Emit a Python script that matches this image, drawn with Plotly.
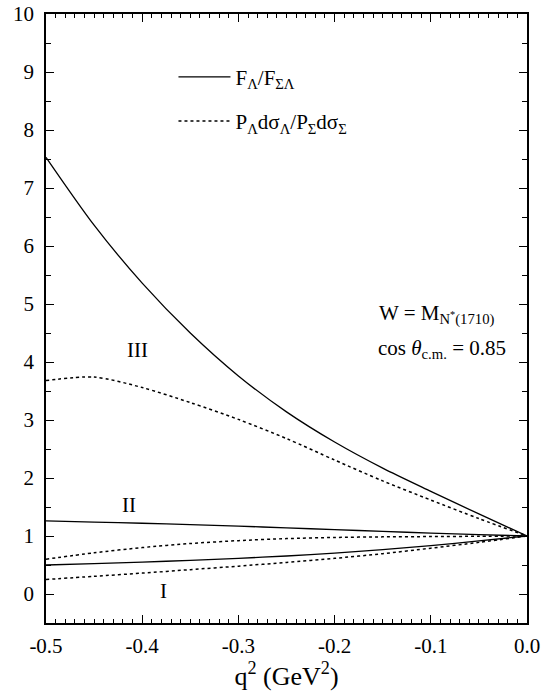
import plotly.graph_objects as go

# q^2 grid (GeV^2)
q2 = [-0.5, -0.45, -0.4, -0.35, -0.3, -0.25, -0.2, -0.15, -0.1, -0.05, 0.0]

# Curve III
f_III = [7.53, 6.36, 5.36, 4.50, 3.76, 3.14, 2.62, 2.17, 1.77, 1.38, 1.0]
p_III = [3.68, 3.74, 3.56, 3.30, 3.01, 2.68, 2.31, 1.95, 1.62, 1.30, 1.0]
# Curve II
f_II = [1.26, 1.24, 1.22, 1.195, 1.17, 1.14, 1.11, 1.08, 1.05, 1.025, 1.0]
p_II = [0.60, 0.71, 0.80, 0.87, 0.92, 0.955, 0.975, 0.985, 0.99, 0.995, 1.0]
# Curve I
f_I = [0.50, 0.525, 0.55, 0.58, 0.615, 0.655, 0.705, 0.765, 0.835, 0.915, 1.0]
p_I = [0.25, 0.305, 0.36, 0.42, 0.48, 0.545, 0.615, 0.695, 0.79, 0.89, 1.0]

# Tick labels
x_tickvals = [-0.5, -0.4, -0.3, -0.2, -0.1, 0.0]
x_ticktext = ["-0.5", "-0.4", "-0.3", "-0.2", "-0.1", "0.0"]
y_tickvals = [0, 1, 2, 3, 4, 5, 6, 7, 8, 9, 10]
y_ticktext = ["0", "1", "2", "3", "4", "5", "6", "7", "8", "9", "10"]

legend_solid = "F<sub>Λ</sub>/F<sub>ΣΛ</sub>"
legend_dot = "P<sub>Λ</sub>dσ<sub>Λ</sub>/P<sub>Σ</sub>dσ<sub>Σ</sub>"

FONT = "Liberation Serif, Times New Roman, Times, serif"

fig = go.Figure()

def add(y, dash, name, show):
    fig.add_trace(go.Scatter(
        x=q2, y=y, mode="lines", name=name, showlegend=show,
        legendgroup=name,
        line=dict(color="black", width=1.3 if dash == "solid" else 1.5,
                  dash=dash, shape="spline", smoothing=0.8),
        hoverinfo="skip"))

add(f_III, "solid", legend_solid, True)
add(p_III, "dot", legend_dot, True)
add(f_II, "solid", "fII", False)
add(p_II, "dot", "pII", False)
add(f_I, "solid", "fI", False)
add(p_I, "dot", "pI", False)

annots = [
    dict(x=-0.405, y=4.2, text="III"),
    dict(x=-0.414, y=1.53, text="II"),
    dict(x=-0.378, y=0.05, text="I"),
]
for a in annots:
    fig.add_annotation(x=a["x"], y=a["y"], text=a["text"], showarrow=False,
                       font=dict(family=FONT, size=21, color="black"),
                       xanchor="center", yanchor="middle")

fig.add_annotation(x=-0.156, y=4.82, text="W = M<sub>N<sup>*</sup>(1710)</sub>",
                   showarrow=False, xanchor="left", yanchor="middle",
                   font=dict(family=FONT, size=21, color="black"))
fig.add_annotation(x=-0.157, y=4.22, text="cos <i>θ</i><sub>c.m.</sub> = 0.85",
                   showarrow=False, xanchor="left", yanchor="middle",
                   font=dict(family=FONT, size=21, color="black"))

axis_common = dict(
    showline=True, linecolor="black", linewidth=1.5, mirror="ticks",
    ticks="inside", ticklen=8, tickwidth=1.2, tickcolor="black",
    showgrid=False, zeroline=False, automargin=False,
    tickfont=dict(family=FONT, size=21, color="black"),
)

fig.update_xaxes(range=[-0.5, 0.0], tickmode="array",
                 tickvals=x_tickvals, ticktext=x_ticktext, ticklabelstandoff=3,
                 minor=dict(dtick=0.01, tick0=0, ticks="inside", ticklen=4,
                            tickcolor="black", tickwidth=1),
                 title=dict(text="q<sup>2</sup> (GeV<sup>2</sup>)",
                            font=dict(family=FONT, size=26, color="black"), standoff=10),
                 **axis_common)
fig.update_yaxes(range=[-0.5, 10], tickmode="array",
                 tickvals=y_tickvals, ticktext=y_ticktext, ticklabelstandoff=6,
                 minor=dict(dtick=0.5, tick0=0, ticks="inside", ticklen=5,
                            tickcolor="black", tickwidth=1),
                 **axis_common)

fig.update_layout(
    width=552, height=694,
    margin=dict(l=46, r=25, t=14, b=71),
    paper_bgcolor="white", plot_bgcolor="white",
    font=dict(family=FONT, color="black"),
    legend=dict(x=0.265, y=0.93, xanchor="left", yanchor="top",
                bgcolor="rgba(0,0,0,0)", itemwidth=52, tracegroupgap=14,
                font=dict(family=FONT, size=21, color="black")),
)

fig.write_html("out.html", config={"displayModeBar": False},
               post_script="document.body.style.margin='0';document.body.style.overflow='hidden';")
